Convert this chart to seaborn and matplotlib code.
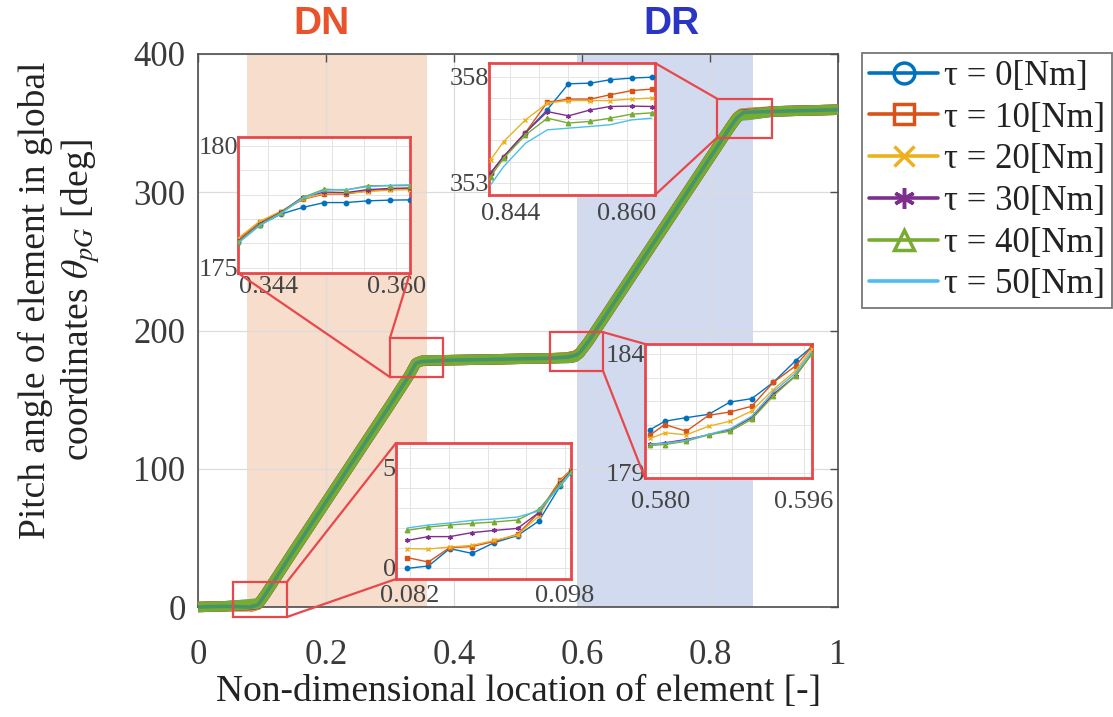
import numpy as np
import matplotlib
matplotlib.use("Agg")
import matplotlib.pyplot as plt
from matplotlib.patches import Rectangle, ConnectionPatch
from matplotlib.lines import Line2D
import seaborn as sns

# ---------------------------------------------------------------- data
torques = [0, 10, 20, 30, 40, 50]
series_labels = [f"τ = {t}[Nm]" for t in torques]
colors = ["#0072BD", "#D95319", "#EDB120", "#7E2F8E", "#77AC30", "#4DBEEE"]
# (6, 2, 0) is an asterisk made of line strokes
markers = ["o", "s", "x", (6, 2, 0), "^", None]

# path pieces that coincide for every torque at full scale
start_x = [0.0, 0.04]
start_y = [0.0, 0.5]
rise1_x = [0.105, 0.15, 0.20, 0.25, 0.30, 0.33]
rise1_y = [9.0, 41.0, 76.0, 111.0, 146.0, 167.5]
flat_x = [0.40, 0.45, 0.50, 0.55]
flat_y = [178.6, 179.0, 179.5, 179.9]
rise2_x = [0.61, 0.65, 0.70, 0.75, 0.80, 0.83]
rise2_y = [192.0, 220.0, 255.0, 290.0, 325.0, 346.0]
end_x = [0.90, 0.95, 1.00]
end_y = [358.5, 359.1, 359.7]

# detail near the start of the first rise (DN entry)
win1_x = [0.0817, 0.0839, 0.0861, 0.0884, 0.0907, 0.0931, 0.0953, 0.0975, 0.0986]
win1_y = {
    0:  [-0.02, 0.10, 0.97, 0.73, 1.27, 1.62, 2.35, 4.10, 4.75],
    10: [0.52, 0.30, 1.02, 1.07, 1.33, 1.68, 2.77, 4.40, 4.90],
    20: [0.97, 0.95, 1.05, 1.13, 1.38, 1.65, 2.60, 4.35, 4.90],
    30: [1.38, 1.57, 1.57, 1.77, 1.88, 1.98, 2.77, 4.25, 4.85],
    40: [1.88, 2.05, 2.15, 2.23, 2.30, 2.40, 2.93, 4.18, 4.80],
    50: [2.00, 2.15, 2.25, 2.38, 2.45, 2.55, 2.85, 4.10, 4.75],
}

# detail at the end of the first rise (DN exit)
win2_x = [0.3402, 0.3429, 0.3456, 0.3483, 0.3510, 0.3537, 0.3564, 0.3592, 0.3617]
win2_y = {
    0:  [176.05, 176.75, 177.20, 177.47, 177.67, 177.67, 177.74, 177.77, 177.78],
    10: [176.15, 176.88, 177.30, 177.80, 178.02, 178.02, 178.15, 178.22, 178.24],
    20: [176.20, 176.90, 177.32, 177.82, 178.05, 178.05, 178.12, 178.18, 178.20],
    30: [176.08, 176.80, 177.28, 177.90, 178.10, 178.08, 178.20, 178.25, 178.27],
    40: [176.05, 176.76, 177.26, 177.88, 178.22, 178.18, 178.36, 178.36, 178.37],
    50: [176.00, 176.72, 177.22, 177.85, 178.18, 178.20, 178.32, 178.38, 178.40],
}

# detail at the start of the second rise (DR entry)
win3_x = [0.5789, 0.5805, 0.5829, 0.5854, 0.5878, 0.5902, 0.5926, 0.5951, 0.5969]
win3_y = {
    0:  [180.82, 181.17, 181.32, 181.46, 181.98, 182.12, 182.80, 183.72, 184.30],
    10: [180.60, 181.03, 180.75, 181.42, 181.56, 181.80, 182.80, 183.50, 184.30],
    20: [180.45, 180.68, 180.60, 180.96, 181.17, 181.60, 182.50, 183.30, 184.20],
    30: [180.20, 180.26, 180.40, 180.60, 180.82, 181.32, 182.30, 183.08, 184.00],
    40: [180.15, 180.19, 180.33, 180.60, 180.75, 181.25, 182.23, 183.08, 184.00],
    50: [180.20, 180.24, 180.36, 180.62, 180.85, 181.38, 182.40, 183.20, 184.10],
}

# detail at the end of the second rise (DR exit)
win4_x = [0.8413, 0.8431, 0.8461, 0.8491, 0.8520, 0.8550, 0.8577, 0.8607, 0.8634]
win4_y = {
    0:  [353.46, 354.24, 355.37, 356.45, 357.67, 357.70, 357.86, 357.94, 357.98],
    10: [353.46, 354.24, 355.37, 356.80, 356.95, 356.95, 357.15, 357.35, 357.42],
    20: [354.08, 354.95, 355.97, 356.76, 356.88, 356.88, 356.88, 356.95, 357.00],
    30: [353.46, 354.24, 355.37, 356.36, 356.16, 356.44, 356.60, 356.62, 356.60],
    40: [353.30, 354.16, 355.26, 356.05, 355.82, 355.90, 356.05, 356.24, 356.30],
    50: [352.90, 353.77, 354.87, 355.50, 355.58, 355.66, 355.74, 355.97, 356.05],
}

# regions
dn_span = (0.077, 0.358)
dr_span = (0.592, 0.867)


def full_path(t):
    xs = start_x + win1_x + rise1_x + win2_x + flat_x + win3_x + rise2_x + win4_x + end_x
    ys = (start_y + win1_y[t] + rise1_y + win2_y[t] + flat_y + win3_y[t]
          + rise2_y + win4_y[t] + end_y)
    return np.array(xs), np.array(ys)


# ---------------------------------------------------------------- style
sns.set_theme(style="white")
plt.rcParams["font.family"] = ["Liberation Serif", "DejaVu Serif"]
plt.rcParams["mathtext.fontset"] = "stix"

W, H = 1113, 717
fig = plt.figure(figsize=(W / 100, H / 100), dpi=100)
fig.patch.set_facecolor("white")


def fx(px):
    return px / W


def fy(py):
    return 1 - py / H


axis_gray = "#4d4d4d"
red = "#E8484B"

ax = fig.add_axes([fx(198), fy(607), fx(838) - fx(198), fy(54) - fy(607)])
ax.set_facecolor("white")
ax.axvspan(*dn_span, color="#F5D5C0", alpha=0.8, lw=0, zorder=0.5)
ax.axvspan(*dr_span, color="#C9D4EB", alpha=0.85, lw=0, zorder=0.5)

# full-scale curves: thick overlapping bands
draw_order = [5, 1, 2, 3, 4, 0]
for i in draw_order:
    t = torques[i]
    xs, ys = full_path(t)
    lw = 7.5 if i != 0 else 2.6
    alpha = 1.0 if i != 0 else 0.4
    sns.lineplot(x=xs, y=ys, ax=ax, color=colors[i], lw=lw, alpha=alpha,
                 sort=False, estimator=None, legend=False, clip_on=False,
                 solid_capstyle="butt", zorder=3)

ax.set_xlim(0, 1)
ax.set_ylim(0, 400)
ax.set_xticks([0, 0.2, 0.4, 0.6, 0.8, 1.0])
ax.set_xticklabels(["0", "0.2", "0.4", "0.6", "0.8", "1"])
ax.set_yticks([0, 100, 200, 300, 400])
ax.set_yticklabels(["0", "100", "200", "300", "400"])
ax.grid(True, color="#dcdcdc", lw=0.9, zorder=0)
ax.set_axisbelow(True)
ax.tick_params(axis="both", direction="in", length=6, width=1, colors=axis_gray,
               labelsize=25, labelcolor="#3a3a3a", top=True, right=True)
ax.tick_params(axis="x", pad=23)
ax.tick_params(axis="y", pad=9)
for sp in ax.spines.values():
    sp.set_color(axis_gray)
    sp.set_linewidth(1.2)
ax.set_xlabel("Non-dimensional location of element [-]", fontsize=27,
              color="#222222", labelpad=2)
ax.set_ylabel("")
fig.text(fx(60), fy(300), "Pitch angle of element in global\ncoordinates $\\theta_{pG}$ [deg]",
         rotation=90, ha="center", va="center", fontsize=27, color="#222222",
         multialignment="center", linespacing=1.25)

fig.text(fx(322), fy(24), "DN", fontsize=28, fontweight="bold", color="#E8532C",
         family="Liberation Sans", ha="center", va="center")
fig.text(fx(672), fy(24), "DR", fontsize=28, fontweight="bold", color="#2A35C4",
         family="Liberation Sans", ha="center", va="center")


# ---------------------------------------------------------------- insets
def inset(box_px, xs, ys_by_t, xlim, ylim, gx, gy, xl, yl, xpad):
    (x0, y0), (x1, y1) = box_px
    iax = fig.add_axes([fx(x0), fy(y1), fx(x1) - fx(x0), fy(y0) - fy(y1)])
    iax.set_facecolor("white")
    for i, t in enumerate(torques):
        sns.lineplot(x=np.array(xs), y=np.array(ys_by_t[t]), ax=iax, color=colors[i],
                     lw=1.0, marker=markers[i], markersize=3.2, markeredgewidth=1.0,
                     markeredgecolor=colors[i], markerfacecolor=colors[i],
                     sort=False, estimator=None, legend=False, zorder=3)
    iax.set_xlim(*xlim)
    iax.set_ylim(*ylim)
    iax.set_xticks(gx)
    iax.set_xticklabels([xl[k] if k in xl else "" for k in range(len(gx))])
    iax.set_yticks(gy)
    iax.set_yticklabels([yl[k] if k in yl else "" for k in range(len(gy))])
    iax.grid(True, color="#e4e4e4", lw=0.7)
    iax.tick_params(length=0, labelsize=19, labelcolor="#444444")
    iax.tick_params(axis="x", pad=xpad)
    iax.tick_params(axis="y", pad=0)
    iax.set_xlabel("")
    iax.set_ylabel("")
    for sp in iax.spines.values():
        sp.set_color(red)
        sp.set_linewidth(2.0)
    return iax


in1 = inset(((396, 443), (571, 579)), win1_x, win1_y, (0.08055, 0.09862), (-0.55, 6.25),
            [0.082, 0.086, 0.090, 0.094, 0.098], [0, 1, 2, 3, 4, 5, 6],
            {0: "0.082", 4: "0.098"}, {0: "0", 5: "5"}, 4)
in2 = inset(((238, 137), (410, 273)), win2_x, win2_y, (0.3402, 0.3617), (174.78, 180.36),
            [0.344, 0.348, 0.352, 0.356, 0.360], [175, 176, 177, 178, 179, 180],
            {0: "0.344", 4: "0.360"}, {0: "175", 5: "180"}, 2)
in3 = inset(((645, 344), (812, 478)), win3_x, win3_y, (0.57829, 0.59693), (178.78, 184.42),
            [0.580, 0.584, 0.588, 0.592, 0.596], [179, 180, 181, 182, 183, 184],
            {0: "0.580", 4: "0.596"}, {0: "179", 5: "184"}, 9)
in4 = inset(((489, 63), (655, 195)), win4_x, win4_y, (0.84109, 0.86388), (352.43, 358.65),
            [0.844, 0.848, 0.852, 0.856, 0.860], [353, 354, 355, 356, 357, 358],
            {0: "0.844", 4: "0.860"}, {0: "353", 5: "358"}, 6)

# zoom markers on the main axes and their leader lines
marks = {
    "a": (0.055, -7.2, 0.084, 25.3),
    "b": (0.300, 166.3, 0.083, 28.3),
    "c": (0.550, 170.6, 0.083, 28.2),
    "d": (0.811, 339.5, 0.086, 28.2),
}
for (x0, y0, w, h) in marks.values():
    ax.add_patch(Rectangle((x0, y0), w, h, fill=False, ec=red, lw=1.6,
                           clip_on=False, zorder=5))

links = [
    (in1, (0, 1), (0.139, 18.1)), (in1, (0, 0), (0.139, -7.2)),
    (in2, (0, 0), (0.300, 166.3)), (in2, (1, 0), (0.300, 194.6)),
    (in3, (0, 1), (0.633, 198.8)), (in3, (0, 0), (0.633, 170.6)),
    (in4, (1, 1), (0.811, 367.7)), (in4, (1, 0), (0.811, 339.5)),
]
for iax, pa, pb in links:
    con = ConnectionPatch(xyA=pa, coordsA=iax.transAxes, xyB=pb, coordsB=ax.transData,
                          color=red, lw=1.6, zorder=6)
    fig.add_artist(con)

# ---------------------------------------------------------------- legend
handles = [Line2D([], [], color=c, marker=m, markersize=15, markerfacecolor="none",
                  markeredgewidth=2.5, lw=2.6) for c, m in zip(colors, markers)]
leg = fig.legend(handles, series_labels, loc="upper left",
                 bbox_to_anchor=(fx(862), fy(53)), fontsize=25, frameon=True,
                 fancybox=False, handlelength=2.0, handletextpad=0.15,
                 labelspacing=0.25, borderpad=0.2, borderaxespad=0)
leg.get_frame().set_edgecolor("#555555")
leg.get_frame().set_linewidth(1.3)
for txt in leg.get_texts():
    txt.set_color("#222222")

fig.savefig("out.png", dpi=100, facecolor="white")
